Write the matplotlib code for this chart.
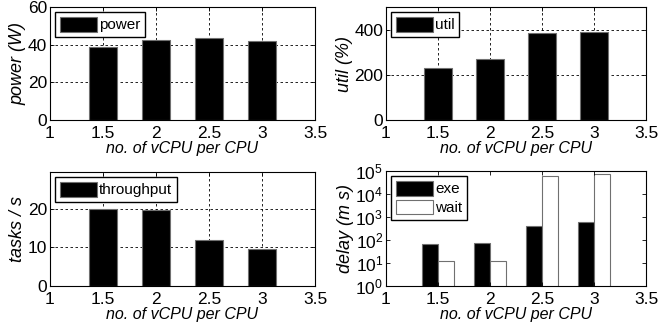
import matplotlib
matplotlib.use("Agg")
import matplotlib.pyplot as plt
import numpy as np

plt.rcParams['font.family'] = ['Liberation Sans', 'DejaVu Sans']
plt.rcParams['font.size'] = 11
plt.rcParams['mathtext.fontset'] = 'custom'
plt.rcParams['mathtext.rm'] = 'Liberation Sans'

x = [1.5, 2.0, 2.5, 3.0]
power = [38.6, 42.6, 43.5, 42.1]
util = [234, 272, 388, 394]
throughput = [20.0, 19.7, 11.9, 9.5]
delay_exe = [66, 74, 427, 580]
delay_wait = [12.7, 12.7, 62000, 76000]
xticks = [1, 1.5, 2, 2.5, 3, 3.5]
xticklabels = ['1', '1.5', '2', '2.5', '3', '3.5']
xlabel = 'no. of vCPU per CPU'

W, H = 662, 333
fig = plt.figure(figsize=(W / 100, H / 100), dpi=100)

def box(l, t, r, b):
    return [l / W, 1 - b / H, (r - l) / W, (b - t) / H]

edge = '#707070'
tfs = 12.5

def style(ax, grid=True):
    ax.set_xlim(1, 3.5)
    ax.set_xticks(xticks)
    ax.set_xticklabels(xticklabels)
    ax.tick_params(direction='in', top=True, right=True, length=3, width=0.6, pad=2,
                   labelsize=tfs)
    ax.tick_params(axis='x', pad=4)
    ax.tick_params(which='minor', direction='in', top=False, right=True, length=2, width=0.5)
    for s in ax.spines.values():
        s.set_linewidth(0.8)
        s.set_color('black')
    if grid:
        ax.grid(True, linestyle=(0, (3, 3)), color='black', linewidth=0.6)
        ax.set_axisbelow(True)
    ax.set_xlabel(xlabel, style='italic', labelpad=0, fontsize=11.5)

def leg(ax):
    ax.legend(loc='upper left', fancybox=False, edgecolor='black', framealpha=1,
              handlelength=2.4, handleheight=1.1, handletextpad=0.15,
              borderpad=0.3, borderaxespad=0.35, labelspacing=0.2, fontsize=11)

bw = 0.26
yfs = 13

ax1 = fig.add_axes(box(50, 7, 315, 120))
ax1.bar(x, power, width=bw, color='black', edgecolor=edge, linewidth=0.8, label='power')
style(ax1)
ax1.set_ylim(0, 60)
ax1.set_yticks([0, 20, 40, 60])
ax1.set_ylabel('power (W)', style='italic', labelpad=1, fontsize=yfs)
leg(ax1)

ax2 = fig.add_axes(box(386, 7, 646, 120))
ax2.bar(x, util, width=bw, color='black', edgecolor=edge, linewidth=0.8, label='util')
style(ax2)
ax2.set_ylim(0, 505)
ax2.set_yticks([0, 200, 400])
ax2.set_ylabel('util (%)', style='italic', labelpad=1, fontsize=yfs)
leg(ax2)

ax3 = fig.add_axes(box(50, 172, 315, 286))
ax3.bar(x, throughput, width=bw, color='black', edgecolor=edge, linewidth=0.8, label='throughput')
style(ax3)
ax3.set_ylim(0, 29.6)
ax3.set_yticks([0, 10, 20])
ax3.set_ylabel('tasks / s', style='italic', labelpad=1, fontsize=yfs)
leg(ax3)

ax4 = fig.add_axes(box(386, 171, 646, 286))
gw = 0.15
xe = [v - gw / 2 for v in x]
xw = [v + gw / 2 for v in x]
ax4.bar(xe, delay_exe, width=gw, color='black', edgecolor=edge, linewidth=0.8, label='exe')
ax4.bar(xw, delay_wait, width=gw, color='white', edgecolor=edge, linewidth=0.8, label='wait')
ax4.set_yscale('log')
style(ax4, grid=False)
ax4.set_ylim(1, 1e5)
ax4.set_yticks([1, 10, 100, 1e3, 1e4, 1e5])
ax4.set_ylabel('delay (m s)', style='italic', labelpad=1, fontsize=yfs)
leg(ax4)

fig.savefig('out.png', dpi=100)
